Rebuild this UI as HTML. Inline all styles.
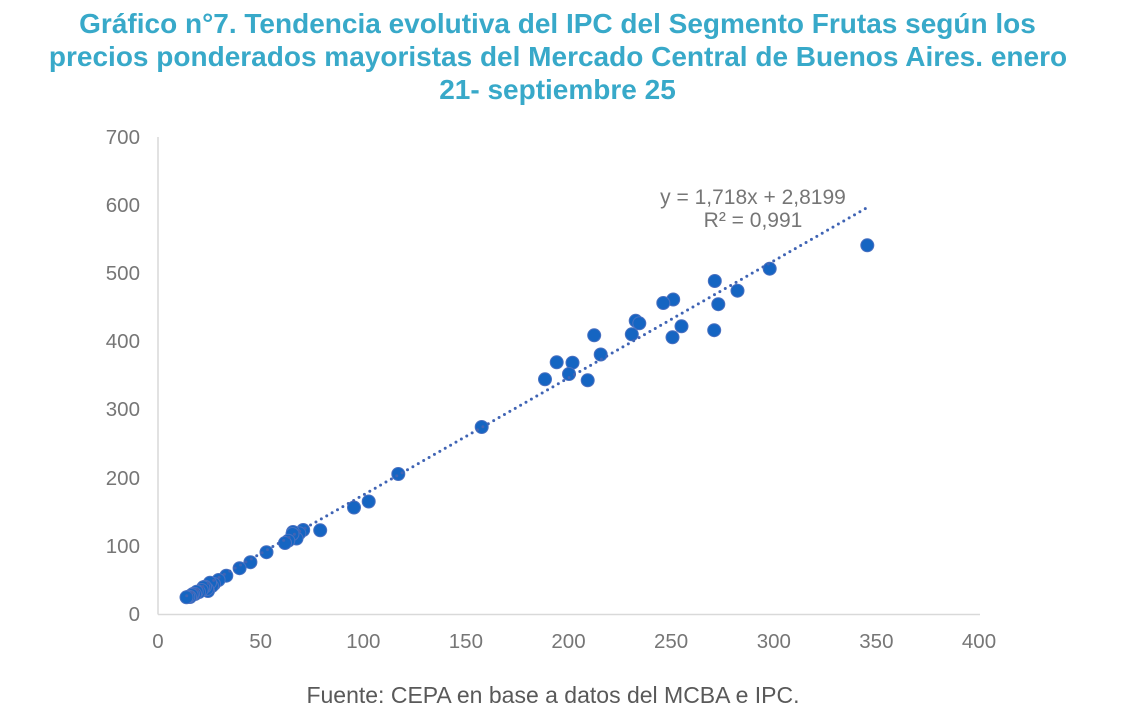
<!DOCTYPE html>
<html>
<head>
<meta charset="utf-8">
<style>
html,body{margin:0;padding:0;background:#fff;}
body{width:1133px;height:723px;overflow:hidden;}
svg{display:block;}
</style>
</head>
<body>
<svg width="1133" height="723" viewBox="0 0 1133 723" xmlns="http://www.w3.org/2000/svg">
  <rect width="1133" height="723" fill="#ffffff"/>
  <g font-family="'Liberation Sans', Arial, sans-serif" font-weight="bold" font-size="28" fill="#38A9C9" text-anchor="middle">
    <text x="557.5" y="33">Gráfico n°7. Tendencia evolutiva del IPC del Segmento Frutas según los</text>
    <text x="558" y="66">precios ponderados mayoristas del Mercado Central de Buenos Aires. enero</text>
    <text x="557.5" y="99">21- septiembre 25</text>
  </g>

  <line x1="158" y1="137" x2="158" y2="614.5" stroke="#d9d9d9" stroke-width="1.5"/>
  <line x1="158" y1="614.5" x2="980" y2="614.5" stroke="#d9d9d9" stroke-width="1.5"/>

  <g font-family="'Liberation Sans', Arial, sans-serif" font-size="20.5" fill="#767676" text-anchor="end">
    <text x="140" y="144">700</text>
    <text x="140" y="212">600</text>
    <text x="140" y="280">500</text>
    <text x="140" y="348">400</text>
    <text x="140" y="416">300</text>
    <text x="140" y="485">200</text>
    <text x="140" y="553">100</text>
    <text x="140" y="621">0</text>
  </g>
  <g font-family="'Liberation Sans', Arial, sans-serif" font-size="20.5" fill="#767676" text-anchor="middle">
    <text x="158" y="648">0</text>
    <text x="260.6" y="648">50</text>
    <text x="363.3" y="648">100</text>
    <text x="465.9" y="648">150</text>
    <text x="568.5" y="648">200</text>
    <text x="671.1" y="648">250</text>
    <text x="773.8" y="648">300</text>
    <text x="876.4" y="648">350</text>
    <text x="979" y="648">400</text>
  </g>

  <g fill="#1565C2" stroke="#4A70C0" stroke-width="1">
    <circle cx="867.3" cy="245.3" r="6.5"/>
    <circle cx="769.7" cy="268.7" r="6.5"/>
    <circle cx="737.5" cy="290.7" r="6.5"/>
    <circle cx="714.8" cy="281" r="6.5"/>
    <circle cx="718.3" cy="304.2" r="6.5"/>
    <circle cx="714.2" cy="330.2" r="6.5"/>
    <circle cx="673.2" cy="299.5" r="6.5"/>
    <circle cx="663.3" cy="303" r="6.5"/>
    <circle cx="681.5" cy="326.3" r="6.5"/>
    <circle cx="672.5" cy="337.3" r="6.5"/>
    <circle cx="635.7" cy="320.8" r="6.5"/>
    <circle cx="639.3" cy="323.3" r="6.5"/>
    <circle cx="631.8" cy="334.3" r="6.5"/>
    <circle cx="594.2" cy="335.3" r="6.5"/>
    <circle cx="600.7" cy="354.5" r="6.5"/>
    <circle cx="572.5" cy="362.7" r="6.5"/>
    <circle cx="556.7" cy="362.3" r="6.5"/>
    <circle cx="545" cy="379.3" r="6.5"/>
    <circle cx="569" cy="374" r="6.5"/>
    <circle cx="587.7" cy="380.3" r="6.5"/>
    <circle cx="481.7" cy="427" r="6.5"/>
    <circle cx="398.3" cy="474" r="6.5"/>
    <circle cx="368.7" cy="501.5" r="6.5"/>
    <circle cx="354" cy="507.5" r="6.5"/>
    <circle cx="320.2" cy="530.3" r="6.5"/>
    <circle cx="303.2" cy="530" r="6.5"/>
    <circle cx="299.3" cy="533.3" r="6.5"/>
    <circle cx="293" cy="532" r="6.5"/>
    <circle cx="296.5" cy="538.5" r="6.5"/>
    <circle cx="292.5" cy="534" r="6.5"/>
    <circle cx="288.3" cy="540.7" r="6.5"/>
    <circle cx="285" cy="543" r="6.5"/>
    <circle cx="266.5" cy="552.2" r="6.5"/>
    <circle cx="250.4" cy="562.2" r="6.5"/>
    <circle cx="239.6" cy="568.2" r="6.5"/>
    <circle cx="226.3" cy="575.7" r="6.5"/>
    <circle cx="218.6" cy="580" r="6.5"/>
    <circle cx="214" cy="584" r="6.5"/>
    <circle cx="212" cy="586" r="6.5"/>
    <circle cx="210" cy="582.7" r="6.5"/>
    <circle cx="208" cy="591" r="6.5"/>
    <circle cx="207" cy="589" r="6.5"/>
    <circle cx="205" cy="586.7" r="6.5"/>
    <circle cx="203.3" cy="587.3" r="6.5"/>
    <circle cx="201.7" cy="590" r="6.5"/>
    <circle cx="199" cy="592" r="6.5"/>
    <circle cx="196.7" cy="591.7" r="6.5"/>
    <circle cx="195" cy="594" r="6.5"/>
    <circle cx="193" cy="594" r="6.5"/>
    <circle cx="191.7" cy="595" r="6.5"/>
    <circle cx="190" cy="597" r="6.5"/>
    <circle cx="188.3" cy="596.7" r="6.5"/>
    <circle cx="186.5" cy="597.3" r="6.5"/>
  </g>

  <line x1="186.7" y1="595.7" x2="867" y2="207.7" stroke="#4064B4" stroke-width="3" stroke-linecap="round" stroke-dasharray="0 6.2"/>

  <g font-family="'Liberation Sans', Arial, sans-serif" font-size="21" fill="#767676" text-anchor="middle">
    <text x="753" y="204">y = 1,718x + 2,8199</text>
    <text x="753" y="227">R² = 0,991</text>
  </g>

  <text x="553" y="703" font-family="'Liberation Sans', Arial, sans-serif" font-size="23" fill="#595959" text-anchor="middle">Fuente: CEPA en base a datos del MCBA e IPC.</text>
</svg>
</body>
</html>
